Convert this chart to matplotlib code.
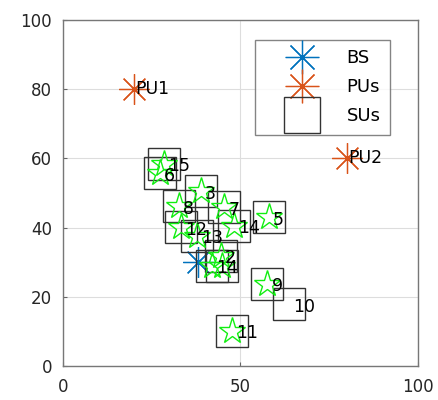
import matplotlib
matplotlib.use("Agg")
import matplotlib.pyplot as plt

plt.rcParams["font.family"] = ["DejaVu Sans"]

# Base station and primary users
bs_x = [38]
bs_y = [30]
pu_x = [20, 80]
pu_y = [80, 60]
pu_labels = ["PU1", "PU2"]

# Secondary users (index i -> label i+1)
su_x = [42, 44.5, 38.8, 44.7, 58, 27.3, 45.5, 32.7, 57.6, 63.7, 47.7, 33.2, 37.8, 48.2, 28.5]
su_y = [29, 31.9, 50.5, 29, 43, 55.7, 46, 46.3, 23.8, 17.9, 10.2, 40.1, 37.7, 40.6, 58.5]
su_labels = [str(i) for i in range(1, 16)]
# SUs that also carry a green star (all but 10)
star_ids = [1, 2, 3, 4, 5, 6, 7, 8, 9, 11, 12, 13, 14, 15]

blue = "#0072BD"
orange = "#D95319"

fig = plt.figure(figsize=(4.38, 4.0), dpi=100)
ax = fig.add_axes([0.144, 0.085, 0.810, 0.865])

ax.plot(bs_x, bs_y, linestyle="none", marker=(8, 2, 0), markersize=22,
        markeredgewidth=0.9, color=blue, label="BS")
ax.plot(pu_x, pu_y, linestyle="none", marker=(8, 2, 0), markersize=22,
        markeredgewidth=0.9, color=orange, label="PUs")
ax.plot(su_x, su_y, linestyle="none", marker="s", markersize=23,
        markerfacecolor="none", markeredgecolor="#333333",
        markeredgewidth=1.0, label="SUs")

sx = [su_x[i - 1] for i in star_ids]
sy = [su_y[i - 1] for i in star_ids]
ax.plot(sx, sy, linestyle="none", marker="*", markersize=20,
        markerfacecolor="none", markeredgecolor="#11ee11", markeredgewidth=1.0)

for x, y, s in zip(pu_x, pu_y, pu_labels):
    ax.text(x + 0.3, y, s, fontsize=12.5, ha="left", va="center", color="black")
for x, y, s in zip(su_x, su_y, su_labels):
    ax.text(x + 1.2, y - 0.8, s, fontsize=12.5, ha="left", va="center", color="black")

ax.set_xlim(0, 100)
ax.set_ylim(0, 100)
ax.set_xticks([0, 50, 100])
ax.set_yticks([0, 20, 40, 60, 80, 100])
ax.grid(True, color="#dddddd", linewidth=0.8)
ax.set_axisbelow(True)
ax.tick_params(direction="in", length=3, labelsize=12, colors="#666666",
               labelcolor="#262626")
ax.tick_params(axis="x", pad=9)
ax.tick_params(axis="y", pad=8)
for sp in ax.spines.values():
    sp.set_color("#777777")
    sp.set_linewidth(1.0)

leg = ax.legend(loc="upper left", bbox_to_anchor=(0.54, 0.942), fontsize=13,
                frameon=True, fancybox=False, edgecolor="#666666",
                handlelength=4.2, labelspacing=0.62, borderpad=0.5,
                handletextpad=0.4, borderaxespad=0, markerscale=1.1)
leg.get_frame().set_linewidth(1.0)

fig.savefig("out.png", dpi=100)
